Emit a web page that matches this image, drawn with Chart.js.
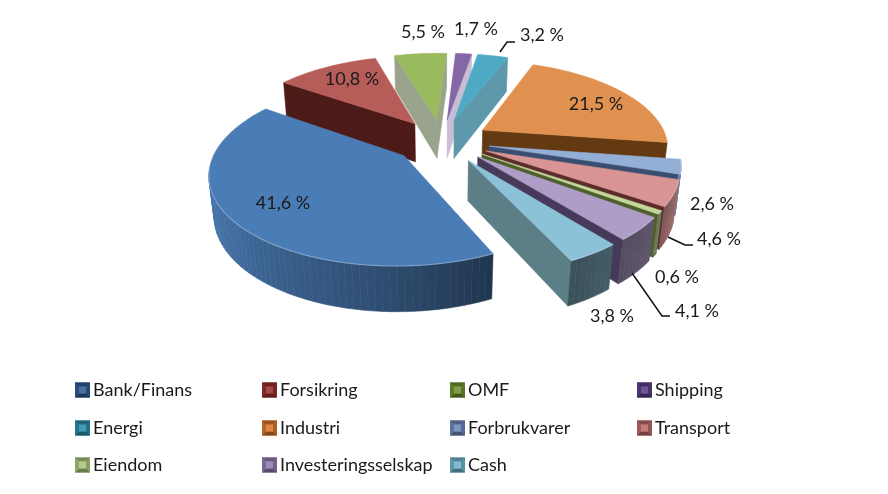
<!DOCTYPE html>
<html><head><meta charset="utf-8">
<style>html,body{margin:0;padding:0;background:#fff}canvas{display:block}</style>
<script src="https://cdn.jsdelivr.net/npm/chart.js@4/dist/chart.umd.js"></script>
</head><body>
<canvas id="c" width="888" height="494"></canvas>
<script>
const categories = ['Bank/Finans','Forsikring','OMF','Shipping','Energi','Industri','Forbrukvarer','Transport','Eiendom','Investeringsselskap','Cash'];
const shares = [41.6,10.8,5.5,1.7,3.2,21.5,2.6,4.6,0.6,4.1,3.8];

const topColors  = ['#4A7CB6','#B65C59','#9ABA5E','#8468A6','#4EA9C4','#E0914F','#93AFD6','#D99593','#C3D69B','#AE9DC6','#8CC2D8'];
const darkFaces  = ['#1F3A5F','#4C1A17','#4F5F2C','#46395A','#2E6272','#633A11','#3A4E72','#5C2C2A','#4F5F2C','#46395A','#3E6873'];
const lightFaces = ['#3A659A','#8A5A58','#9AA38C','#C7BED6','#5E99AB','#A87A50','#8092B0','#A87674','#8A9A68','#8A7CA0','#5C7E86'];
const swatchColors = ['#2F5A92','#96302D','#6F9130','#5B3E85','#2A8CA8','#D9762A','#6D86B8','#B96A68','#A9C47C','#8F7CAD','#6FB2CC'];
const labelCenters = [[283,203],[352,79],[423,32],[476,29],[542,35],[596,104],[712,204],[719,239],[677,277],[697,311],[612,316]];
const leaders = [[[500,52],[507,42],[515,42]],[[668,237],[685,245],[693,245]],[[632,273],[662,316],[670,316]]];
const legendCols = [75,262,450,637], legendRows = [390,428,465];

const FONT = 'Lato, "Open Sans", sans-serif';
const EXPLODE = 0.26, DEPTH = 0.243, K = 0.176, TILT_S = 0.46, TILT_C = 0.89, M = 0.09;

function project(el,u,v,z){
  const w = 1/(1 - K*v + M*z);
  return [el.x + el.outerRadius*u*w, el.y + el.outerRadius*(v*TILT_S + z*TILT_C)*w];
}
function hexMix(hex,f){
  const n = parseInt(hex.slice(1),16);
  const c = [n>>16&255,n>>8&255,n&255].map(x=>Math.max(0,Math.min(255,Math.round(f<=1?x*f:x+(255-x)*(f-1)))));
  return `rgb(${c[0]},${c[1]},${c[2]})`;
}
function rimShade(u){
  const pts = [[-1,.95],[-.5,.76],[0,.6],[.45,.42],[.8,.55],[1,.8]];
  for(let i=1;i<pts.length;i++) if(u<=pts[i][0]){
    const t=(u-pts[i-1][0])/(pts[i][0]-pts[i-1][0]);
    return pts[i-1][1]+t*(pts[i][1]-pts[i-1][1]);
  }
  return .8;
}
function poly(ctx,pts,fill){
  ctx.beginPath();
  pts.forEach((p,i)=>i?ctx.lineTo(p[0],p[1]):ctx.moveTo(p[0],p[1]));
  ctx.closePath();
  ctx.fillStyle=fill;ctx.strokeStyle=fill;ctx.lineWidth=.6;
  ctx.fill();ctx.stroke();
}
function area(p){let a=0;for(let i=0;i<p.length;i++){const q=p[(i+1)%p.length];a+=p[i][0]*q[1]-q[0]*p[i][1];}return a;}

function drawSlice(ctx,el,i){
  const mid=(el.startAngle+el.endAngle)/2;
  const ox=Math.cos(mid)*EXPLODE, oy=Math.sin(mid)*EXPLODE;
  const rim=[], n=Math.max(6,Math.ceil((el.endAngle-el.startAngle)*30));
  for(let s=0;s<=n;s++){
    const t=el.startAngle+(el.endAngle-el.startAngle)*s/n;
    rim.push([ox+Math.cos(t),oy+Math.sin(t),Math.cos(t),Math.sin(t)]);
  }
  const P=(a,z)=>project(el,a[0],a[1],z);
  const apex=[ox,oy];
  const face=(edge,theta,sign)=>{
    const q=[P(apex,0),P(edge,0),P(edge,DEPTH),P(apex,DEPTH)];
    if(area(q)*sign>0) poly(ctx,q,Math.abs(Math.sin(theta))>.85?lightFaces[i]:darkFaces[i]);
  };
  face(rim[0],el.startAngle,-1);
  face(rim[n],el.endAngle,1);
  for(let s=0;s<n;s++){
    const a=rim[s],b=rim[s+1];
    if((a[3]+b[3])/2<.14) continue;
    poly(ctx,[P(a,0),P(b,0),P(b,DEPTH),P(a,DEPTH)],hexMix(topColors[i],rimShade((a[2]+b[2])/2)));
  }
  const top=[P(apex,0)].concat(rim.map(a=>P(a,0)));
  poly(ctx,top,topColors[i]);
  // soft highlight along the front rim
  ctx.beginPath();let on=false;
  rim.forEach(a=>{const p=P(a,0);if(a[3]<.14){on=false;return;}on?ctx.lineTo(p[0],p[1]):ctx.moveTo(p[0],p[1]);on=true;});
  ctx.strokeStyle='rgba(255,255,255,.28)';ctx.lineWidth=1.2;ctx.stroke();
}

function drawSwatch(ctx,x,cy,col){
  const s=15,y=cy-s/2,b=4;
  ctx.fillStyle=hexMix(col,.95);ctx.fillRect(x,y,s,s);
  const tri=(pts,f)=>{ctx.beginPath();pts.forEach((p,i)=>i?ctx.lineTo(p[0],p[1]):ctx.moveTo(p[0],p[1]));ctx.closePath();ctx.fillStyle=f;ctx.fill();};
  tri([[x,y],[x+s,y],[x+s-b,y+b],[x+b,y+b]],hexMix(col,.72));
  tri([[x,y+s],[x+s,y+s],[x+s-b,y+s-b],[x+b,y+s-b]],hexMix(col,.62));
  tri([[x,y],[x,y+s],[x+b,y+s-b],[x+b,y+b]],hexMix(col,.85));
  tri([[x+s,y],[x+s,y+s],[x+s-b,y+s-b],[x+s-b,y+b]],hexMix(col,.8));
  ctx.fillStyle=hexMix(col,1.12);ctx.fillRect(x+b,y+b,s-2*b,s-2*b);
}

const pie3d = {
  id:'pie3d',
  beforeDatasetDraw(chart,args){
    const ctx=chart.ctx, els=args.meta.data;
    const order=els.map((e,i)=>i).sort((a,b)=>
      Math.sin((els[a].startAngle+els[a].endAngle)/2)-Math.sin((els[b].startAngle+els[b].endAngle)/2));
    ctx.save();
    order.forEach(i=>drawSlice(ctx,els[i],i));
    ctx.restore();
    return false;
  },
  afterDraw(chart){
    const ctx=chart.ctx;
    ctx.save();
    ctx.strokeStyle='#111';ctx.lineWidth=1.5;
    leaders.forEach(l=>{ctx.beginPath();l.forEach((p,i)=>i?ctx.lineTo(p[0],p[1]):ctx.moveTo(p[0],p[1]));ctx.stroke();});
    ctx.font='18px '+FONT;ctx.fillStyle='#1a1a1a';ctx.textBaseline='middle';ctx.textAlign='center';
    shares.forEach((v,i)=>ctx.fillText(v.toFixed(1).replace('.',',')+' %',labelCenters[i][0],labelCenters[i][1]));
    ctx.textAlign='left';
    categories.forEach((name,i)=>{
      const x=legendCols[i%4], y=legendRows[Math.floor(i/4)];
      drawSwatch(ctx,x,y,swatchColors[i]);
      ctx.fillStyle='#1a1a1a';
      ctx.fillText(name,x+18,y);
    });
    ctx.restore();
  }
};

new Chart(document.getElementById('c'),{
  type:'pie',
  data:{labels:categories,datasets:[{data:shares,backgroundColor:topColors,borderWidth:0}]},
  options:{
    responsive:false,animation:false,rotation:155,radius:185,
    layout:{padding:{bottom:212,right:4}},
    plugins:{legend:{display:false},tooltip:{enabled:false}}
  },
  plugins:[pie3d]
});
</script>
</body></html>
